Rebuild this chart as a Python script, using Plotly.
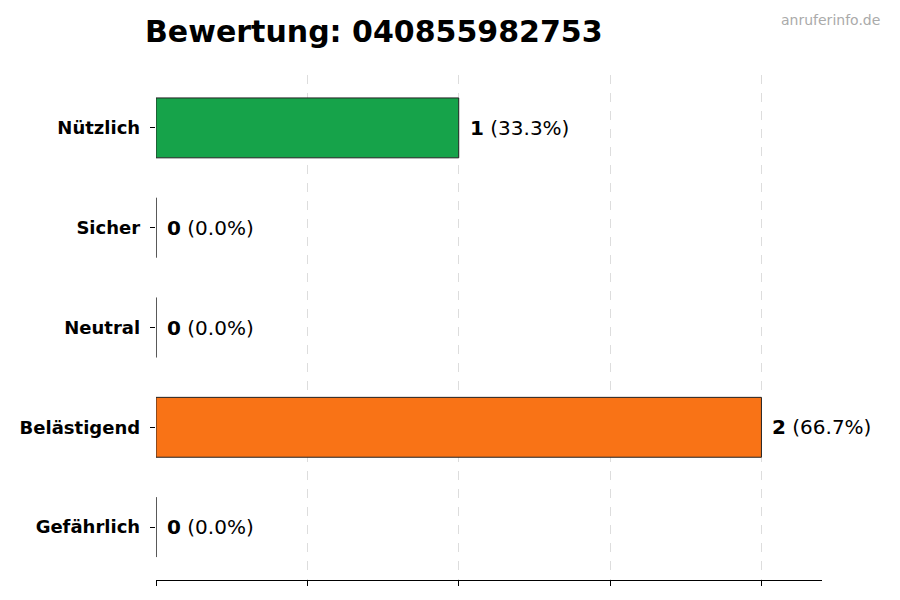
import plotly.graph_objects as go

categories = ["Nützlich", "Sicher", "Neutral", "Belästigend", "Gefährlich"]
counts = [1, 0, 0, 2, 0]
colors = ["#16a34a", "#22c55e", "#9ca3af", "#f97316", "#dc2626"]
total = sum(counts)
labels = [f"<b>{c}</b> ({c/total*100:.1f}%)" for c in counts]

L, R, T, B = 137, 86, 67, 28
fig = go.Figure()
fig.add_trace(go.Bar(
    y=categories, x=counts, orientation="h", width=0.6,
    marker=dict(color=colors, line=dict(color="#222222", width=1)),
    hoverinfo="skip",
))
for cat, c, lab in zip(categories, counts, labels):
    fig.add_annotation(x=c, y=cat, text=lab, showarrow=False, xanchor="left",
                       xshift=9, font=dict(size=20, color="black", family="DejaVu Sans"))

fig.update_layout(
    width=900, height=600, plot_bgcolor="white", paper_bgcolor="white",
    margin=dict(l=L, r=R, t=T, b=B),
    showlegend=False,
    font=dict(family="DejaVu Sans", color="black"),
    title=dict(text="<b>Bewertung: 040855982753</b>", x=L/900, xanchor="left",
               y=1 - 23/600, yanchor="middle", font=dict(size=30, family="DejaVu Sans")),
    xaxis=dict(range=[0, 2.2], dtick=0.5, showticklabels=False, ticks="outside",
               ticklen=5, tickcolor="black", showgrid=True, gridcolor="#dddddd",
               griddash="dash", gridwidth=1, showline=True, linecolor="black",
               zeroline=False),
    yaxis=dict(autorange=False, range=[4.53, -0.53], ticks="outside", ticklen=5,
               tickcolor="black", showgrid=False, showline=False,
               tickfont=dict(size=18, family="DejaVu Sans", weight="bold"), ticksuffix=" "),
)
fig.add_annotation(text="anruferinfo.de", xref="paper", yref="paper",
                   x=(875 - L) / (900 - L - R), y=1 + (T - 2) / (600 - T - B),
                   xanchor="right", yanchor="top", showarrow=False,
                   font=dict(size=14, color="#aaaaaa"))
fig.write_html("out.html")
